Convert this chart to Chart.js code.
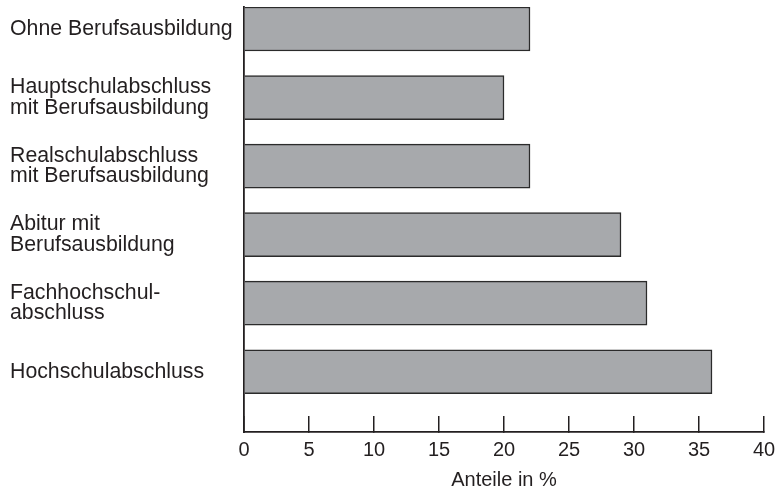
<!DOCTYPE html>
<html>
<head>
<meta charset="utf-8">
<script src="https://cdn.jsdelivr.net/npm/chart.js@4"></script>
<style>
  html, body { margin: 0; padding: 0; background: #fff; }
</style>
</head>
<body>
<canvas id="chart" width="775" height="489"></canvas>
<script>
const categories = [
  ["Ohne Berufsausbildung"],
  ["Hauptschulabschluss", "mit Berufsausbildung"],
  ["Realschulabschluss", "mit Berufsausbildung"],
  ["Abitur mit", "Berufsausbildung"],
  ["Fachhochschul-", "abschluss"],
  ["Hochschulabschluss"],
];
const shares = [22, 20, 22, 29, 31, 36];
const xTicks = [0, 5, 10, 15, 20, 25, 30, 35, 40];

const INK = "#231f20";
const FONT = "'Liberation Sans', Arial, sans-serif";

const points = shares.map((v, i) => ({ x: v, y: i }));

new Chart(document.getElementById("chart").getContext("2d"), {
  type: "bar",
  data: {
    datasets: [
      {
        data: points,
        backgroundColor: "#a7a9ac",
        borderColor: "#2b2b2b",
        borderWidth: 1.5,
        barThickness: 44,
      },
    ],
  },
  options: {
    indexAxis: "y",
    responsive: false,
    animation: false,
    devicePixelRatio: 1,
    layout: { padding: { left: 10, right: 11, top: 7, bottom: 0 } },
    plugins: { legend: { display: false }, tooltip: { enabled: false } },
    scales: {
      x: {
        type: "linear",
        min: 0,
        max: 40,
        afterBuildTicks: (s) => { s.ticks = xTicks.map((v) => ({ value: v })); },
        afterFit: (s) => { s.height = 57; s.paddingLeft = 0; s.paddingRight = 0; },
        border: { color: INK, width: 1.8 },
        grid: { drawOnChartArea: false, color: INK, lineWidth: 1.5, tickLength: -16 },
        ticks: { color: INK, padding: 22, maxRotation: 0, font: { family: FONT, size: 20 } },
        title: {
          display: true,
          text: "Anteile in %",
          color: INK,
          font: { family: FONT, size: 20 },
          padding: { top: 0, bottom: -3 },
        },
      },
      y: {
        type: "linear",
        reverse: true,
        offset: false,
        min: -0.321,
        max: 5.879,
        afterBuildTicks: (s) => { s.ticks = categories.map((_, i) => ({ value: i })); },
        afterFit: (s) => { s.width = 234; s.paddingTop = 0; s.paddingBottom = 0; },
        border: { color: INK, width: 1.8 },
        grid: { display: false, drawTicks: false },
        ticks: {
          color: INK,
          crossAlign: "far",
          font: { family: FONT, size: 21.3, lineHeight: 0.95 },
          callback: (v) => categories[v],
        },
      },
    },
  },
});
</script>
</body>
</html>
